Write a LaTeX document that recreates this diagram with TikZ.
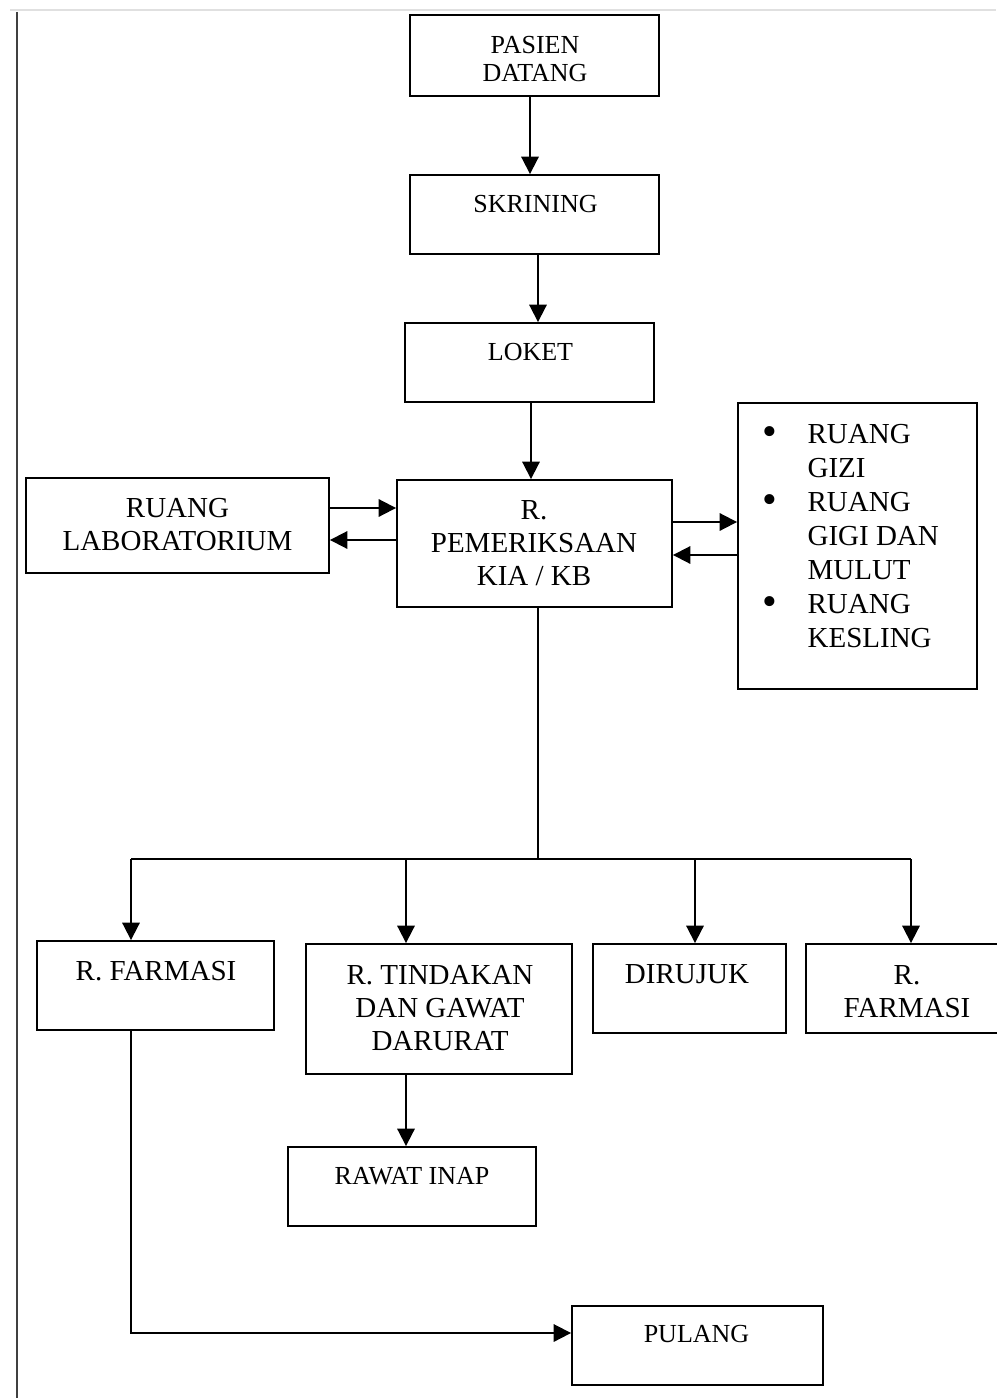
\documentclass[tikz,border=0pt]{standalone}
\usepackage{fontspec}
\setmainfont{Liberation Serif}
\usetikzlibrary{arrows.meta,fit}
\tikzset{
  box/.style={draw, line width=1.4pt, inner sep=0pt},
  big/.style={font=\fontsize{21.75}{24.75}\selectfont, align=center, inner sep=0pt},
  small/.style={font=\fontsize{19.5}{21}\selectfont, align=center, inner sep=0pt},
  arr/.style={line width=1.4pt, -{Triangle[length=13pt,width=13pt]}},
  ln/.style={line width=1.4pt},
}
\newcommand{\mybul}{\raisebox{-0.05em}{\scalebox{1.45}{\textbullet}}}
\begin{document}
\begin{tikzpicture}[x=0.75pt,y=-0.75pt]
\useasboundingbox (0,0) rectangle (996,1398);
% page frame lines
\draw[line width=2.2pt, color=black!12] (10,10) -- (996,10);
\draw[line width=1.2pt, color=black!75] (17,12) -- (17,1398);

% boxes
\node[box, fit={(410,15)(659,96)}] (pasien) {};
\node[box, fit={(410,175)(659,254)}] (skrining) {};
\node[box, fit={(405,323)(654,402)}] (loket) {};
\node[box, fit={(397,480)(672,607)}] (pem) {};
\node[box, fit={(26,478)(329,573)}] (lab) {};
\node[box, fit={(738,403)(977,689)}] (ruang) {};
\node[box, fit={(37,941)(274,1030)}] (farm1) {};
\node[box, fit={(306,944)(572,1074)}] (tind) {};
\node[box, fit={(593,944)(786,1033)}] (rujuk) {};
\node[box, fit={(806,944)(1010,1033)}] (farm2) {};
\node[box, fit={(288,1147)(536,1226)}] (rawat) {};
\node[box, fit={(572,1306)(823,1385)}] (pulang) {};

% texts
\node[small] (tpasien) at (535,59) {PASIEN\\DATANG};
\node[small] (tskrining) at (535.5,204) {SKRINING};
\node[small] (tloket) at (530.5,352) {LOKET};
\node[big] (tlab) at (177.5,524.5) {RUANG\\LABORATORIUM};
\node[big] (tpem) at (534,543.5) {R.\\PEMERIKSAAN\\KIA / KB};
\node[big, anchor=west, align=left] (truang) at (762,539) {%
  \def\arraystretch{1.03}%
  \begin{tabular}{@{}p{34pt}@{}l@{}}
  \mybul & RUANG\\
         & GIZI\\
  \mybul & RUANG\\
         & GIGI DAN\\
         & MULUT\\
  \mybul & RUANG\\
         & KESLING
  \end{tabular}};
\node[big] (tfarm1) at (156,971) {R. FARMASI};
\node[big] (ttind) at (440,1008) {R. TINDAKAN\\DAN GAWAT\\DARURAT};
\node[big] (trujuk) at (687,974) {DIRUJUK};
\node[big] (tfarm2) at (907,991.5) {R.\\FARMASI};
\node[small] (trawat) at (412,1176) {RAWAT INAP};
\node[small] (tpulang) at (696.5,1334) {PULANG};

% connectors
\draw[arr] (pasien.south -| 530,0) -- (skrining.north -| 530,0);
\draw[arr] (skrining.south -| 538,0) -- (loket.north -| 538,0);
\draw[arr] (loket.south -| 531,0) -- (pem.north -| 531,0);
\draw[arr] (lab.east |- 0,508) -- (pem.west |- 0,508);
\draw[arr] (pem.west |- 0,540) -- (lab.east |- 0,540);
\draw[arr] (pem.east |- 0,522) -- (ruang.west |- 0,522);
\draw[arr] (ruang.west |- 0,555) -- (pem.east |- 0,555);

\coordinate (split) at (538,859);
\coordinate (jL) at (131,859);
\coordinate (jT) at (406,859);
\coordinate (jD) at (695,859);
\coordinate (jR) at (911,859);
\draw[ln] (pem.south -| split) -- (split);
\draw[ln] (jL) -- (jR);
\draw[arr] (jL) -- (farm1.north -| jL);
\draw[arr] (jT) -- (tind.north -| jT);
\draw[arr] (jD) -- (rujuk.north -| jD);
\draw[arr] (jR) -- (farm2.north -| jR);
\draw[arr] (tind.south -| jT) -- (rawat.north -| jT);
\draw[arr] (farm1.south -| jL) |- (pulang.west |- 0,1333);
\end{tikzpicture}
\end{document}
